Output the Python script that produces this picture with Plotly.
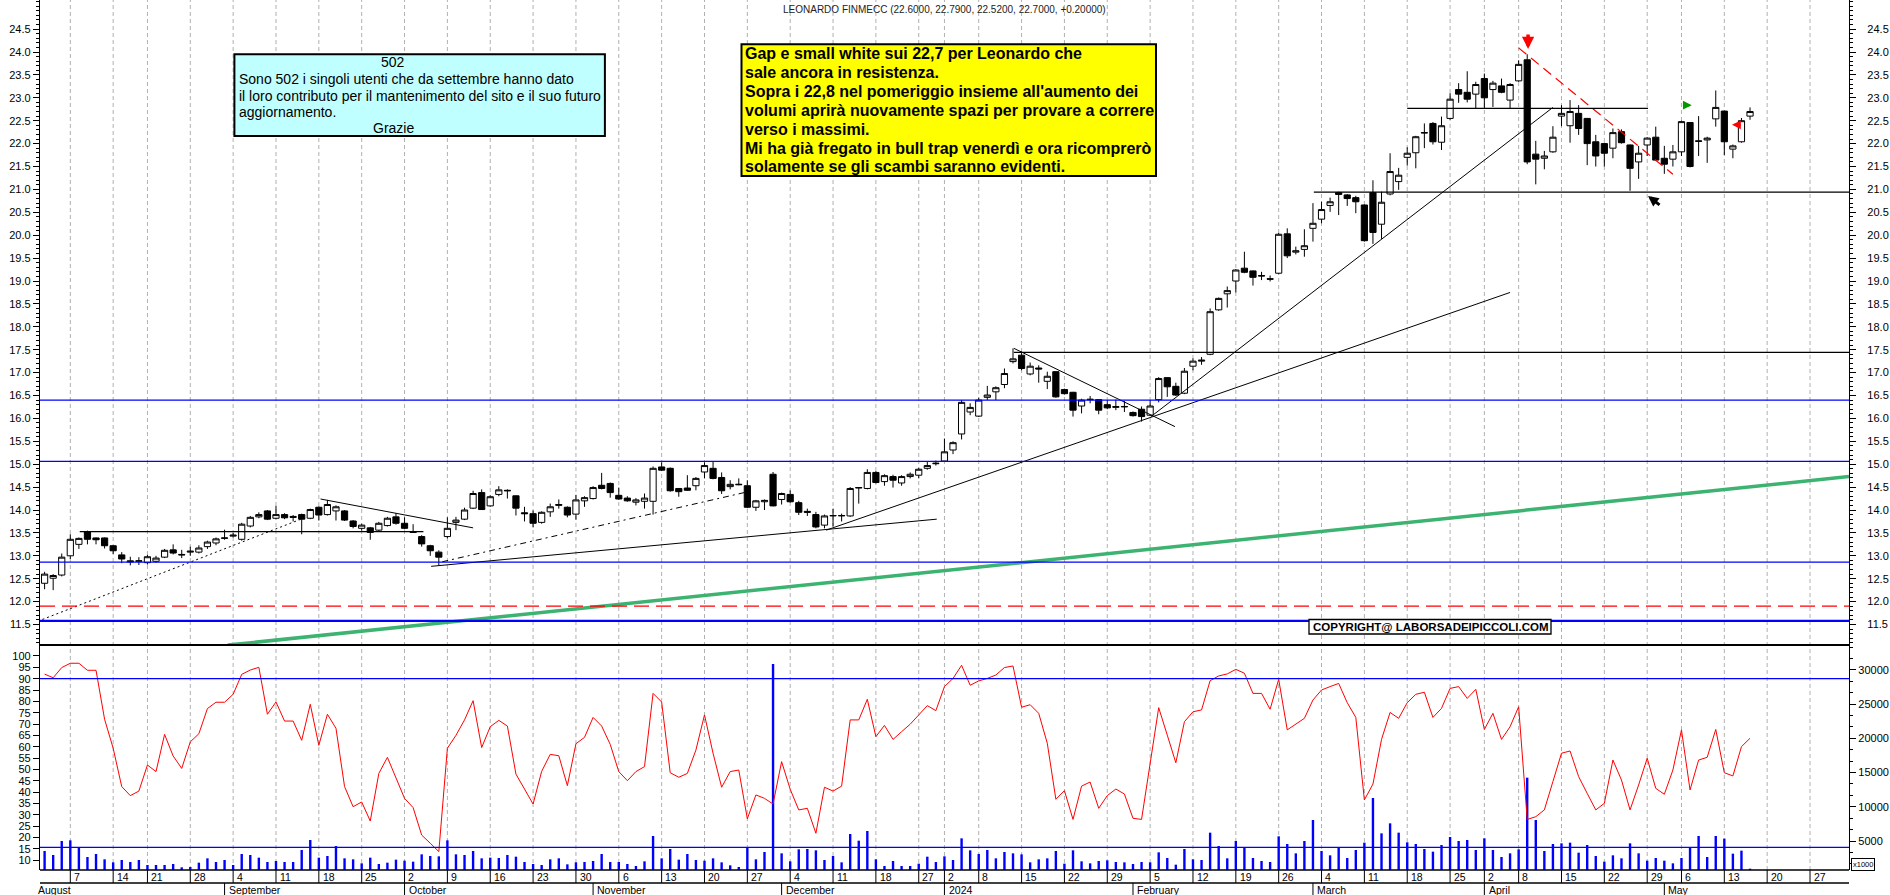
import pandas as pd
import plotly.graph_objects as go

# ------------------------------------------------------------------ data
TITLE = "LEONARDO FINMECC (22.6000, 22.7900, 22.5200, 22.7000, +0.20000)"
FIRST_SESSION = "2023-08-02"
AXIS_END = "2024-05-31"
HOLIDAYS = ["2023-08-15", "2023-12-25", "2023-12-26", "2024-01-01",
            "2024-03-29", "2024-04-01", "2024-05-01"]

OPEN = [12.40, 12.51, 12.58, 13.00, 13.25, 13.52, 13.39, 13.39, 13.22, 13.02,
        12.89, 12.88, 12.85, 12.88, 12.97, 13.13, 13.03, 13.08, 13.08, 13.20,
        13.28, 13.38, 13.43, 13.36, 13.65, 13.85, 13.98, 13.82, 13.90, 13.86,
        13.90, 13.82, 14.06, 13.90, 13.98, 13.98, 13.76, 13.60, 13.61, 13.56,
        13.66, 13.85, 13.71, 13.52, 13.42, 13.22, 13.08, 13.42, 13.73, 13.80,
        14.04, 14.38, 14.09, 14.34, 14.43, 14.31, 13.94, 13.92, 13.73, 13.96,
        14.10, 14.06, 13.91, 14.20, 14.25, 14.54, 14.58, 14.32, 14.26, 14.17,
        14.19, 14.19, 14.94, 14.91, 14.47, 14.48, 14.53, 14.83, 14.91, 14.71,
        14.51, 14.55, 14.53, 14.06, 14.18, 14.78, 14.23, 14.34, 14.16, 13.97,
        13.90, 13.67, 13.87, 13.87, 13.87, 14.48, 14.47, 14.82, 14.62, 14.73,
        14.59, 14.73, 14.76, 14.91, 15.01, 15.07, 15.31, 15.66, 16.14, 16.05,
        16.46, 16.58, 16.74, 17.24, 17.38, 16.97, 17.10, 16.81, 17.02, 16.63,
        16.57, 16.27, 16.42, 16.41, 16.30, 16.24, 16.25, 16.13, 16.20, 16.07,
        16.41, 16.89, 16.70, 16.55, 17.14, 17.25, 17.40, 18.37, 18.72, 19.00,
        19.28, 19.22, 19.12, 19.05, 19.17, 20.03, 19.63, 19.69, 20.15, 20.35,
        20.65, 20.93, 20.88, 20.82, 20.66, 20.93, 20.24, 20.90, 21.17, 21.70,
        21.80, 22.23, 22.44, 22.03, 22.55, 23.18, 23.12, 23.08, 23.42, 23.18,
        23.26, 22.95, 23.37, 23.83, 21.77, 21.68, 21.82, 22.60, 22.39, 22.66,
        22.55, 22.04, 22.00, 21.90, 22.26, 21.97, 21.60, 21.97, 22.14, 21.68,
        21.66, 21.82, 22.46, 22.06, 22.08, 22.54, 22.71, 21.88, 22.04, 22.60]
HIGH = [12.65, 12.60, 13.05, 13.47, 13.40, 13.55, 13.40, 13.40, 13.23, 13.08,
        12.98, 12.97, 13.02, 13.00, 13.15, 13.25, 13.13, 13.20, 13.23, 13.33,
        13.40, 13.57, 13.50, 13.72, 13.87, 13.95, 14.00, 14.09, 13.93, 13.89,
        13.92, 14.03, 14.08, 14.22, 14.10, 14.00, 13.78, 13.70, 13.63, 13.74,
        13.85, 13.93, 13.84, 13.69, 13.45, 13.24, 13.12, 13.84, 13.85, 14.05,
        14.42, 14.45, 14.32, 14.52, 14.45, 14.32, 14.07, 13.99, 13.97, 14.14,
        14.23, 14.08, 14.33, 14.30, 14.52, 14.81, 14.60, 14.49, 14.30, 14.26,
        14.36, 14.95, 15.04, 14.93, 14.48, 14.76, 14.72, 15.04, 15.05, 14.82,
        14.65, 14.69, 14.65, 14.22, 14.23, 14.83, 14.38, 14.43, 14.20, 14.03,
        13.96, 13.90, 14.03, 13.92, 14.50, 14.50, 14.89, 14.85, 14.78, 14.77,
        14.76, 14.82, 14.92, 15.07, 15.08, 15.56, 15.50, 16.40, 16.33, 16.45,
        16.71, 16.70, 17.09, 17.53, 17.46, 17.22, 17.16, 17.02, 17.03, 16.65,
        16.58, 16.43, 16.49, 16.42, 16.40, 16.41, 16.38, 16.15, 16.26, 16.40,
        16.90, 16.90, 16.78, 17.10, 17.31, 17.34, 18.40, 18.64, 18.88, 19.26,
        19.64, 19.23, 19.20, 19.12, 20.05, 20.15, 19.75, 20.13, 20.70, 20.73,
        20.82, 20.95, 20.90, 20.86, 20.67, 21.20, 20.95, 21.79, 21.47, 21.92,
        22.17, 22.44, 22.47, 22.59, 23.10, 23.32, 23.58, 23.35, 23.53, 23.37,
        23.42, 23.32, 23.82, 23.95, 22.06, 21.84, 22.38, 22.84, 22.95, 22.84,
        22.56, 22.19, 22.02, 22.33, 22.31, 21.98, 21.95, 22.14, 22.37, 21.95,
        21.97, 22.50, 22.47, 22.60, 22.15, 23.16, 22.72, 21.98, 22.56, 22.79]
LOW = [12.27, 12.25, 12.55, 12.93, 13.15, 13.25, 13.25, 13.16, 13.04, 12.84,
       12.79, 12.80, 12.81, 12.85, 12.95, 13.03, 12.95, 13.00, 13.05, 13.15,
       13.23, 13.35, 13.40, 13.33, 13.62, 13.82, 13.78, 13.80, 13.80, 13.75,
       13.47, 13.80, 13.77, 13.88, 13.77, 13.76, 13.60, 13.55, 13.35, 13.54,
       13.64, 13.68, 13.58, 13.50, 13.20, 13.00, 12.79, 13.38, 13.56, 13.78,
       14.02, 14.00, 14.07, 14.30, 14.25, 13.88, 13.75, 13.62, 13.70, 13.85,
       14.03, 13.84, 13.79, 14.07, 14.23, 14.45, 14.27, 14.22, 14.18, 14.10,
       14.03, 13.90, 14.85, 14.40, 14.29, 14.42, 14.43, 14.69, 14.67, 14.35,
       14.45, 14.54, 14.04, 13.98, 14.00, 14.08, 14.12, 14.16, 13.89, 13.87,
       13.60, 13.60, 13.64, 13.75, 13.85, 14.14, 14.45, 14.58, 14.53, 14.49,
       14.53, 14.69, 14.69, 14.88, 14.97, 15.05, 15.22, 15.54, 16.07, 16.03,
       16.40, 16.40, 16.66, 17.20, 17.05, 16.94, 16.78, 16.64, 16.45, 16.52,
       16.04, 16.11, 16.33, 16.09, 16.20, 16.18, 16.14, 16.04, 15.93, 16.05,
       16.35, 16.47, 16.49, 16.53, 17.05, 17.17, 17.38, 18.35, 18.42, 18.75,
       19.17, 18.90, 19.02, 18.99, 19.15, 19.50, 19.58, 19.53, 19.86, 20.26,
       20.51, 20.44, 20.64, 20.48, 19.86, 19.81, 19.92, 20.87, 20.99, 21.52,
       21.46, 21.90, 21.98, 21.86, 22.52, 22.89, 22.90, 22.77, 22.77, 22.80,
       23.10, 22.77, 23.35, 21.55, 21.11, 21.44, 21.80, 22.38, 22.02, 22.19,
       21.53, 21.50, 21.50, 21.68, 22.00, 20.97, 21.23, 21.73, 21.62, 21.34,
       21.50, 21.73, 21.48, 21.73, 21.58, 22.37, 21.75, 21.68, 22.02, 22.52]
CLOSE = [12.60, 12.57, 12.97, 13.36, 13.38, 13.36, 13.35, 13.22, 13.11, 12.93,
         12.87, 12.89, 12.98, 12.95, 13.12, 13.06, 13.02, 13.10, 13.17, 13.30,
         13.37, 13.39, 13.45, 13.69, 13.84, 13.90, 13.80, 13.90, 13.83, 13.84,
         13.80, 14.01, 13.89, 14.12, 14.07, 13.78, 13.64, 13.67, 13.51, 13.71,
         13.82, 13.71, 13.60, 13.51, 13.26, 13.11, 12.97, 13.60, 13.78, 14.00,
         14.36, 14.01, 14.29, 14.44, 14.42, 14.04, 13.92, 13.71, 13.95, 14.07,
         14.12, 13.89, 14.22, 14.27, 14.49, 14.47, 14.38, 14.24, 14.20, 14.22,
         14.26, 14.91, 14.87, 14.42, 14.40, 14.43, 14.69, 14.97, 14.69, 14.42,
         14.56, 14.56, 14.06, 14.20, 14.21, 14.09, 14.36, 14.18, 13.95, 13.95,
         13.63, 13.87, 13.88, 13.88, 14.47, 14.49, 14.82, 14.60, 14.75, 14.65,
         14.73, 14.78, 14.89, 14.97, 15.02, 15.27, 15.47, 16.35, 16.24, 16.40,
         16.51, 16.67, 16.98, 17.30, 17.09, 17.14, 17.08, 16.92, 16.47, 16.54,
         16.18, 16.40, 16.41, 16.18, 16.23, 16.26, 16.26, 16.06, 16.04, 16.27,
         16.87, 16.69, 16.51, 17.03, 17.25, 17.27, 18.33, 18.62, 18.79, 19.24,
         19.19, 19.08, 19.11, 19.04, 20.02, 19.55, 19.66, 19.77, 20.26, 20.56,
         20.73, 20.89, 20.80, 20.73, 19.88, 20.06, 20.72, 21.39, 21.31, 21.79,
         22.15, 22.24, 22.04, 22.39, 22.97, 23.08, 22.97, 23.29, 23.00, 23.32,
         23.12, 23.29, 23.73, 21.60, 21.66, 21.73, 22.14, 22.66, 22.70, 22.33,
         22.00, 21.73, 21.79, 22.24, 22.02, 21.46, 21.79, 22.12, 21.64, 21.55,
         21.82, 22.48, 21.50, 22.05, 22.12, 22.79, 22.04, 21.95, 22.50, 22.70]

OSCILLATOR = [92.0, 90.4, 94.9, 96.8, 96.8, 93.7, 93.7, 72.1, 59.3, 42.4,
              38.4, 40.4, 51.9, 49.0, 65.4, 55.9, 50.4, 62.1, 65.7, 76.8,
              79.6, 79.6, 83.1, 91.9, 93.8, 95.0, 74.3, 79.7, 71.3, 71.3,
              62.8, 78.7, 60.6, 74.3, 68.1, 42.4, 33.5, 35.6, 27.2, 48.2,
              55.3, 46.2, 37.2, 33.1, 21.0, 17.4, 13.7, 59.3, 65.0, 71.8,
              80.3, 59.6, 68.8, 71.6, 69.1, 47.9, 41.2, 34.7, 49.1, 56.6,
              56.0, 42.8, 61.3, 64.1, 72.9, 69.1, 61.0, 49.0, 45.0, 49.0,
              51.2, 83.5, 79.7, 48.5, 46.5, 48.2, 58.5, 74.0, 57.1, 42.1,
              49.0, 49.7, 28.2, 38.7, 37.2, 34.7, 53.4, 41.2, 32.1, 32.8,
              21.8, 42.1, 40.4, 42.6, 71.8, 71.8, 80.9, 64.4, 69.4, 63.2,
              66.6, 69.9, 74.0, 78.1, 75.9, 86.5, 90.1, 95.9, 87.1, 89.0,
              90.1, 91.6, 94.9, 95.6, 77.4, 78.5, 74.7, 61.5, 36.8, 40.6,
              27.9, 42.6, 44.4, 32.8, 38.4, 41.3, 39.1, 28.4, 27.9, 52.6,
              77.2, 65.1, 52.9, 71.0, 75.4, 76.2, 89.1, 91.2, 92.1, 94.1,
              92.4, 83.5, 83.5, 76.5, 89.7, 67.4, 70.0, 72.5, 80.6, 85.0,
              86.5, 87.9, 79.4, 72.9, 36.5, 43.5, 63.2, 75.1, 72.5, 79.4,
              83.1, 84.0, 72.9, 76.9, 85.7, 86.5, 81.3, 85.3, 67.6, 74.7,
              63.2, 68.8, 77.6, 27.9, 29.1, 32.1, 44.6, 57.1, 58.1, 46.8,
              39.4, 32.1, 35.0, 54.1, 45.3, 32.1, 43.1, 54.9, 41.6, 39.0,
              49.7, 67.4, 40.9, 54.1, 55.3, 67.6, 48.5, 47.1, 60.0, 63.7]

VOLUME = [3538, 2953, 5001, 5097, 4074, 2661, 3099, 2320, 1881, 2222,
          1930, 2222, 1491, 1491, 1491, 1637, 1150, 1199, 1832, 2466,
          1930, 2222, 1491, 3099, 2953, 2563, 1930, 2076, 1930, 1930,
          3684, 5146, 2563, 2807, 4269, 2466, 2320, 1735, 2563, 1637,
          1832, 2271, 2125, 1979, 3050, 2807, 2758, 5097, 3050, 2953,
          3538, 2466, 2563, 2514, 2953, 2709, 1930, 1637, 1491, 2320,
          2466, 1588, 1881, 1930, 2076, 3099, 1930, 1930, 1637, 1345,
          2027, 5731, 2466, 3830, 2271, 3099, 2222, 2125, 2466, 1881,
          1442, 1199, 4074, 2320, 3392, 30875, 3197, 2027, 3782, 3830,
          3635, 2222, 2807, 1881, 6023, 5048, 6462, 2320, 1345, 2076,
          1345, 1345, 1686, 2709, 1930, 2758, 2222, 5390, 3635, 3099,
          3684, 2466, 3392, 3197, 3050, 1881, 2320, 2466, 3538, 1686,
          3635, 2027, 1735, 2076, 2173, 1930, 1881, 1637, 1930, 1881,
          3343, 2514, 1540, 3830, 2320, 2222, 6218, 4269, 2466, 5000,
          4074, 2514, 2076, 1930, 5682, 4561, 3197, 5000, 8070, 3538,
          2904, 4074, 2514, 3684, 4756, 11286, 6120, 7582, 6218, 4805,
          4561, 3830, 3440, 4415, 5585, 5000, 5146, 3684, 5390, 3684,
          2661, 3197, 3782, 14258, 8070, 3538, 4561, 4659, 4756, 3294,
          4415, 2807, 1979, 2904, 2466, 4659, 3197, 2125, 2514, 2125,
          1735, 2514, 4025, 5731, 2661, 5731, 5341, 3148, 3586, 955]

# chart drawings (session index, price)
BLUE_LEVELS = [16.40, 15.06, 12.86]
THICK_BLUE_LEVEL = 11.58
RED_DASH_LEVEL = 11.90
OSC_LEVELS = [90.0, 15.6]
BLACK_LEVELS = {            # level, from session, to session (None = right edge)
    "a": (13.53, 4.1, 44.2),
    "b": (17.44, 113.1, None),
    "c": (20.94, 148.1, None),
    "d": (22.77, 159.0, 187.1),
}
SEGMENTS = {                # (i0, p0, i1, p1)
    "dotted_aug": (-0.26, 11.61, 30.2, 13.82),
    "dashdot_oct": (46.4, 12.87, 82.1, 14.40),
    "support_oct": (45.1, 12.77, 104.1, 13.80),
    "support_dec": (91.2, 13.56, 171.0, 18.75),
    "support_feb": (129.1, 16.04, 176.0, 22.79),
    "down_sep": (32.2, 14.24, 50.0, 13.61),
    "down_jan": (113.1, 17.53, 131.9, 15.82),
    "down_apr": (172.0, 24.09, 190.0, 21.33),
    "green": (21.37, 11.05, 210.55, 14.73),
}
ARROWS = {   # head (session, price), tail offset px
    "red_down": (173.1, 24.066, 0, -16),
    "green_right": (192.2, 22.84, -10, 0),
    "red_left": (196.9, 22.41, 10, 0),
    "black_upleft": (187.1, 20.855, 13, 10),
}

CYAN_LINES = ["502",
              "Sono 502 i singoli utenti che da settembre hanno dato",
              "il loro contributo per il mantenimento del sito e il suo futuro",
              "aggiornamento.",
              "Grazie"]
YELLOW_LINES = ["Gap e small white sui 22,7 per Leonardo che",
                "sale ancora in resistenza.",
                "Sopra i 22,8 nel pomeriggio insieme all'aumento dei",
                "volumi aprirà nuovamente spazi per provare a correre",
                "verso i massimi.",
                "Mi ha già fregato in bull trap venerdì e ora ricomprerò",
                "solamente se gli scambi saranno evidenti."]
COPYRIGHT = "COPYRIGHT@ LABORSADEIPICCOLI.COM"
MONTH_LABEL = {1: "2024", 2: "February", 3: "March", 4: "April", 5: "May",
               8: "August", 9: "September", 10: "October", 11: "November", 12: "December"}

# ------------------------------------------------------------------ calendar
sessions = [d for d in pd.bdate_range(FIRST_SESSION, AXIS_END)
            if d.strftime("%Y-%m-%d") not in HOLIDAYS]
week_starts = [i for i in range(1, len(sessions))
               if sessions[i].isocalendar()[1] != sessions[i - 1].isocalendar()[1]]
month_starts = [i for i in range(1, len(sessions)) if sessions[i].month != sessions[i - 1].month]
n = len(OPEN)
idx = list(range(n))

# ------------------------------------------------------------------ canvas
W, H = 1890, 895
ML, MR, MB = 40, 41, 25
PW, PH = W - ML - MR, H - MB
SPLIT = 645
DOM = (PH - SPLIT) / PH
XR = [(ML - 44.6) / 8.57, (W - MR - 44.6) / 8.57]
PRICE_R = [11.0524, 25.1354]
OSC_R = [5.59, 104.85]
VOL_R = [760, 33652]


def px(x):
    return (x - ML) / PW


def py(y):
    return (PH - y) / PH


AX_FONT = dict(family="Liberation Sans, Arial, sans-serif", size=11, color="#000000")

fig = go.Figure()
fig.add_trace(go.Candlestick(
    x=idx, open=OPEN, high=HIGH, low=LOW, close=CLOSE, xaxis="x", yaxis="y",
    increasing=dict(line=dict(color="black", width=1), fillcolor="white"),
    decreasing=dict(line=dict(color="black", width=1), fillcolor="black"),
    whiskerwidth=0, showlegend=False, hoverinfo="skip"))

seg_style = {
    "dotted_aug": dict(color="black", width=1, dash="2px,3px"),
    "dashdot_oct": dict(color="black", width=1, dash="6px,4px,2px,4px"),
    "support_oct": dict(color="black", width=1),
    "support_dec": dict(color="black", width=1),
    "support_feb": dict(color="black", width=1),
    "down_sep": dict(color="black", width=1),
    "down_jan": dict(color="black", width=1),
    "down_apr": dict(color="#ff0000", width=1.2, dash="10px,6px"),
    "green": dict(color="#3cb371", width=3.5),
}
for name, (i0, p0, i1, p1) in SEGMENTS.items():
    fig.add_trace(go.Scatter(x=[i0, i1], y=[p0, p1], mode="lines", line=seg_style[name],
                             xaxis="x", yaxis="y", showlegend=False, hoverinfo="skip"))
for name, (lvl, i0, i1) in BLACK_LEVELS.items():
    fig.add_trace(go.Scatter(x=[i0, XR[1] if i1 is None else i1], y=[lvl, lvl], mode="lines",
                             line=dict(color="black", width=1.3), xaxis="x", yaxis="y",
                             showlegend=False, hoverinfo="skip"))
# right-hand price scale carrier
fig.add_trace(go.Scatter(x=[idx[0]], y=[CLOSE[0]], mode="markers", marker=dict(opacity=0),
                         xaxis="x", yaxis="y2", showlegend=False, hoverinfo="skip"))
# volume (right scale) then oscillator (left scale, on top)
fig.add_trace(go.Bar(x=idx, y=VOLUME, xaxis="x2", yaxis="y3",
                     marker=dict(color="#0000ff", line=dict(width=0)),
                     width=0.28, showlegend=False, hoverinfo="skip"))
fig.add_trace(go.Scatter(x=idx, y=OSCILLATOR, mode="lines", line=dict(color="#ff0000", width=1),
                         xaxis="x2", yaxis="y4", showlegend=False, hoverinfo="skip"))

shapes = []
for i in week_starts:
    shapes.append(dict(type="line", xref="x", yref="paper", x0=i, x1=i, y0=0, y1=1,
                       line=dict(color="#b0b0b0", width=1, dash="4px,3px"), layer="below"))
for lvl in BLUE_LEVELS:
    shapes.append(dict(type="line", xref="paper", yref="y", x0=0, x1=1, y0=lvl, y1=lvl,
                       line=dict(color="#0000ff", width=1.3)))
shapes.append(dict(type="line", xref="paper", yref="y", x0=0, x1=1, y0=RED_DASH_LEVEL, y1=RED_DASH_LEVEL,
                   line=dict(color="#ff0000", width=1.3, dash="15px,7px")))
shapes.append(dict(type="line", xref="paper", yref="y", x0=0, x1=1, y0=THICK_BLUE_LEVEL, y1=THICK_BLUE_LEVEL,
                   line=dict(color="#0000ff", width=2.4)))
for lvl in OSC_LEVELS:
    shapes.append(dict(type="line", xref="paper", yref="y4", x0=0, x1=1, y0=lvl, y1=lvl,
                       line=dict(color="#0000ff", width=1.3)))
# panel separator and bottom date rows
shapes.append(dict(type="line", xref="paper", yref="paper", x0=0, x1=1, y0=DOM, y1=DOM,
                   line=dict(color="black", width=2)))
for yy in (PH, PH + 13):
    shapes.append(dict(type="line", xref="paper", yref="paper", x0=0, x1=1, y0=py(yy), y1=py(yy),
                       line=dict(color="black", width=1.3)))
for i in week_starts:
    shapes.append(dict(type="line", xref="x", yref="paper", x0=i, x1=i, y0=py(PH), y1=py(PH + 13),
                       line=dict(color="black", width=1)))
for i in month_starts:
    shapes.append(dict(type="line", xref="x", yref="paper", x0=i, x1=i, y0=py(PH + 13), y1=py(H),
                       line=dict(color="black", width=1)))
# text boxes
shapes.append(dict(type="rect", xref="paper", yref="paper", x0=px(234.4), x1=px(604.9), y0=py(136), y1=py(54.3),
                   fillcolor="#c0ffff", line=dict(color="black", width=2)))
shapes.append(dict(type="rect", xref="paper", yref="paper", x0=px(741.5), x1=px(1156), y0=py(176), y1=py(44.3),
                   fillcolor="#ffff00", line=dict(color="black", width=2)))
shapes.append(dict(type="rect", xref="paper", yref="paper", x0=px(1309), x1=px(1551), y0=py(634), y1=py(619.5),
                   fillcolor="white", line=dict(color="black", width=1.3)))

ann = []
ann.append(dict(text=TITLE, xref="paper", yref="paper", x=px(944), y=py(9), xanchor="center",
                yanchor="middle", showarrow=False,
                font=dict(family="Liberation Sans, Arial", size=10, color="#222222")))
NARROW = "Liberation Sans Narrow, Arial Narrow, Liberation Sans, sans-serif"
cy = [62.3, 79.3, 95.7, 111.7, 128.3]
for k, t in enumerate(CYAN_LINES):
    centered = k in (0, len(CYAN_LINES) - 1)
    ann.append(dict(text=t, xref="paper", yref="paper", x=px(393 if centered else 236.5), y=py(cy[k]),
                    xanchor="center" if centered else "left", yanchor="middle", showarrow=False,
                    font=dict(family=NARROW, size=14, color="black")))
yy_ = [53.3, 72.3, 91.3, 110.3, 129.3, 148.7, 166.7]
for k, t in enumerate(YELLOW_LINES):
    ann.append(dict(text="<b>" + t + "</b>", xref="paper", yref="paper", x=px(743), y=py(yy_[k]),
                    xanchor="left", yanchor="middle", showarrow=False,
                    font=dict(family="Liberation Sans, Arial", size=16, color="black")))
ann.append(dict(text="<b>" + COPYRIGHT + "</b>", xref="paper", yref="paper", x=px(1430), y=py(627),
                xanchor="center", yanchor="middle", showarrow=False,
                font=dict(family="Liberation Sans, Arial", size=11.5, color="black")))
for i in week_starts:
    ann.append(dict(text=str(sessions[i].day), xref="x", yref="paper", x=i + 0.2, y=py(PH + 7),
                    xanchor="left", yanchor="middle", showarrow=False,
                    font=dict(family="Liberation Sans, Arial", size=10.5, color="black")))
ann.append(dict(text=MONTH_LABEL[sessions[0].month], xref="paper", yref="paper", x=px(36), y=py(PH + 19.5),
                xanchor="left", yanchor="middle", showarrow=False,
                font=dict(family="Liberation Sans, Arial", size=10.5, color="black")))
for i in month_starts:
    ann.append(dict(text=MONTH_LABEL[sessions[i].month], xref="x", yref="paper", x=i + 0.25, y=py(PH + 19.5),
                    xanchor="left", yanchor="middle", showarrow=False,
                    font=dict(family="Liberation Sans, Arial", size=10.5, color="black")))
arrow_style = {"red_down": ("#ff0000", 3.5, 0.7), "green_right": ("#009900", 2.2, 0.8),
               "red_left": ("#ff0000", 2.2, 0.8), "black_upleft": ("black", 3, 0.7)}
for name, (i, p, dx, dy) in ARROWS.items():
    col, wid, size = arrow_style[name]
    ann.append(dict(text="", xref="x", yref="y", x=i, y=p, ax=dx, ay=dy, showarrow=True,
                    arrowhead=2, arrowsize=size, arrowwidth=wid, arrowcolor=col, standoff=0))
ann.append(dict(text="x1000", xref="paper", yref="paper", x=px(1851), y=py(864), xanchor="left",
                yanchor="middle", showarrow=False,
                font=dict(family="Liberation Sans, Arial", size=7.5, color="black"),
                bordercolor="black", borderwidth=1, borderpad=1, bgcolor="white"))

price_ticks = [11.5 + 0.5 * k for k in range(27)]
common_y = dict(showgrid=False, zeroline=False, showline=True, linecolor="black", linewidth=1.3,
                ticks="outside", ticklen=6, tickcolor="black", tickfont=AX_FONT, fixedrange=True)
fig.update_layout(
    width=W, height=H, margin=dict(l=ML, r=MR, t=0, b=MB, pad=0),
    paper_bgcolor="white", plot_bgcolor="white", showlegend=False, hovermode=False,
    boxgap=0.15, boxgroupgap=0.15,
    xaxis=dict(domain=[0, 1], anchor="y", range=XR, showticklabels=False, showgrid=False,
               zeroline=False, ticks="", rangeslider=dict(visible=False), fixedrange=True),
    xaxis2=dict(domain=[0, 1], anchor="y3", range=XR, matches="x", showticklabels=False,
                showgrid=False, zeroline=False, ticks=""),
    yaxis=dict(domain=[DOM, 1], anchor="x", range=PRICE_R, side="left", tickmode="array",
               tickvals=price_ticks, ticktext=["%.1f" % v for v in price_ticks],
               minor=dict(ticks="outside", tickmode="linear", tick0=0, dtick=0.1, ticklen=3,
                          tickcolor="black", showgrid=False), **common_y),
    yaxis2=dict(overlaying="y", anchor="x", range=PRICE_R, side="right", tickmode="array",
                tickvals=price_ticks, ticktext=["%.1f" % v for v in price_ticks], ticklabelstandoff=9,
                minor=dict(ticks="outside", tickmode="linear", tick0=0, dtick=0.1, ticklen=3,
                           tickcolor="black", showgrid=False), **common_y),
    yaxis3=dict(domain=[0, DOM], anchor="x2", range=VOL_R, side="right", tickmode="array",
                tickvals=[5000 * k for k in range(1, 7)], ticktext=[str(5000 * k) for k in range(1, 7)],
                minor=dict(ticks="outside", tickmode="linear", tick0=0, dtick=5000 / 3, ticklen=3,
                           tickcolor="black", showgrid=False), **common_y),
    yaxis4=dict(overlaying="y3", anchor="x2", range=OSC_R, side="left", tickmode="array",
                tickvals=[5 * k for k in range(2, 21)], ticktext=[str(5 * k) for k in range(2, 21)],
                **common_y),
    shapes=shapes, annotations=ann,
)
fig.write_html("out.html", config={"displayModeBar": False},
               post_script="document.body.style.margin='0px';document.body.style.overflow='hidden';")
